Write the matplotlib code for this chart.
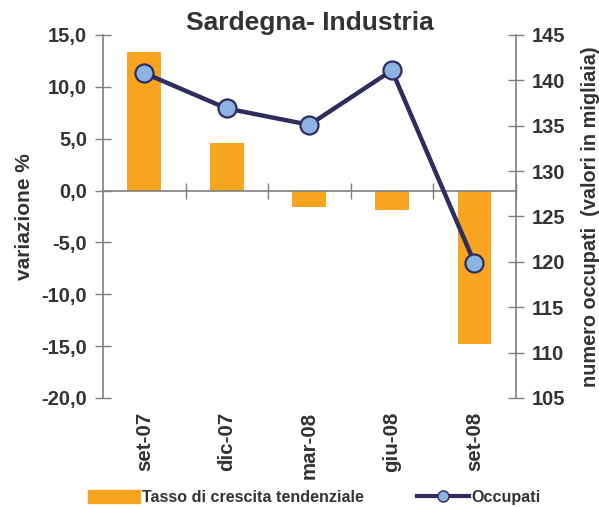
import matplotlib.pyplot as plt
import numpy as np
from matplotlib.lines import Line2D
from matplotlib.patches import Patch

plt.rcParams['font.family'] = ['Liberation Sans', 'DejaVu Sans']
plt.rcParams['font.weight'] = 'bold'
plt.rcParams['axes.titleweight'] = 'bold'
plt.rcParams['axes.labelweight'] = 'bold'

categories = ["set-07", "dic-07", "mar-08", "giu-08", "set-08"]
tasso = [13.4, 4.6, -1.6, -1.9, -14.8]
occupati = [140.8, 136.9, 135.1, 141.1, 119.9]

bar_color = "#F7A51E"
line_color = "#2E2D5E"
marker_color = "#8DB3E2"
spine_color = "#7F7F7F"
text_color = "#333333"

fig = plt.figure(figsize=(5.99, 5.07), dpi=100)
ax = fig.add_axes((0.172, 0.215, 0.689, 0.716))
x = np.arange(len(categories))

ax.bar(x, tasso, width=0.41, color=bar_color, zorder=2)
ax.set_xlim(-0.5, len(categories) - 0.5)
ax.set_ylim(-20, 15)
ax.set_yticks(np.arange(-20, 16, 5))
ax.set_yticklabels([f"{v:.1f}".replace(".", ",") for v in np.arange(-20, 16, 5)])
ax.tick_params(axis="y", direction="inout", length=11, width=1, color=spine_color,
               labelsize=14.5, labelcolor=text_color, pad=6)

# x axis at zero with ticks on category boundaries
ax.spines["bottom"].set_position(("data", 0))
ax.spines["top"].set_visible(False)
ax.spines["right"].set_visible(False)
for s in ("bottom", "left"):
    ax.spines[s].set_color(spine_color)
    ax.spines[s].set_linewidth(1.2)
ax.set_xticks(np.arange(0.5, len(categories), 1))
ax.set_xticklabels([])
ax.tick_params(axis="x", direction="inout", length=11, width=1, color=spine_color)

sec = ax.secondary_xaxis(0)
sec.set_xticks(x)
sec.set_xticklabels(categories, rotation=90, fontsize=14.8, color=text_color)
sec.tick_params(length=0, pad=10)
sec.spines["bottom"].set_visible(False)

ax.set_ylabel("variazione %", fontsize=15, color=text_color, labelpad=5)

ax2 = ax.twinx()
ax2.plot(x, occupati, color=line_color, linewidth=3.2, marker="o", markersize=13,
         markerfacecolor=marker_color, markeredgecolor=line_color, markeredgewidth=1.6,
         zorder=3, clip_on=False)
ax2.set_ylim(105, 145)
ax2.set_yticks(np.arange(105, 146, 5))
ax2.tick_params(axis="y", direction="inout", length=11, width=1, color=spine_color,
                labelsize=14.5, labelcolor=text_color, pad=6)
for s in ("top", "left", "bottom"):
    ax2.spines[s].set_visible(False)
ax2.spines["right"].set_color(spine_color)
ax2.spines["right"].set_linewidth(1.2)
ax2.set_ylabel("numero occupati  (valori in migliaia)", fontsize=14.3, color=text_color,
               labelpad=11)

ax.set_title("Sardegna- Industria", fontsize=19, color=text_color, pad=3)

handles = [Patch(color=bar_color),
           Line2D([0], [0], color=line_color, linewidth=3, marker="o", markersize=8,
                  markerfacecolor=marker_color, markeredgecolor=line_color)]
fig.legend(handles, ["Tasso di crescita tendenziale", "Occupati"], loc="lower center",
           bbox_to_anchor=(0.525, -0.025), ncol=2, frameon=False, fontsize=11.6,
           handlelength=3.2, handleheight=0.8, handletextpad=0.15, columnspacing=3.3,
           labelcolor=text_color)

fig.savefig("out.png", dpi=100)
